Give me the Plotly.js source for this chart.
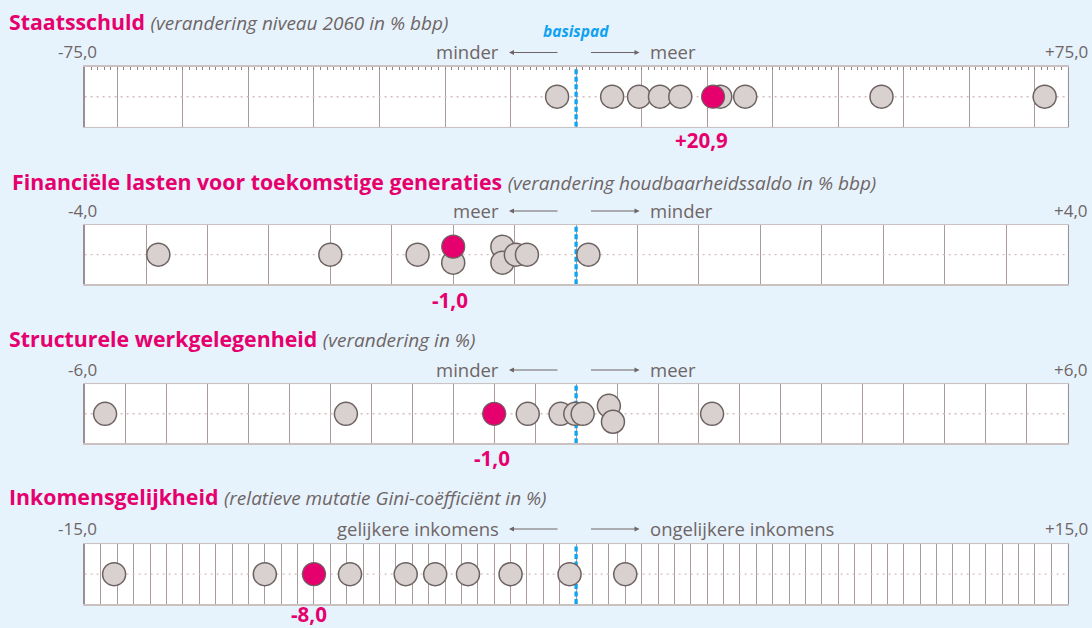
<!DOCTYPE html>
<html>
<head>
<meta charset="utf-8">
<script src="https://cdn.plot.ly/plotly-3.0.1.min.js"></script>
<style>
  html, body { margin: 0; padding: 0; background: #e6f3fd; }
  #chart { width: 1092px; height: 628px; }
</style>
</head>
<body>
<div id="chart"></div>
<script>
// ---------------- DATA ----------------
const panelTitles = ['Staatsschuld', 'Financiële lasten voor toekomstige generaties', 'Structurele werkgelegenheid', 'Inkomensgelijkheid'];
const panelSubtitles = ['(verandering niveau 2060 in % bbp)', '(verandering houdbaarheidssaldo in % bbp)', '(verandering in %)', '(relatieve mutatie Gini-coëfficiënt in %)'];
const leftWords = ['minder', 'meer', 'minder', 'gelijkere inkomens'];
const rightWords = ['meer', 'minder', 'meer', 'ongelijkere inkomens'];
const axisMinLabels = ['-75,0', '-4,0', '-6,0', '-15,0'];
const axisMaxLabels = ['+75,0', '+4,0', '+6,0', '+15,0'];
const axisLimits = [75, 4, 6, 15];
const gridSteps = [10, 0.5, 0.5, 0.5];
const highlightLabels = ['+20,9', '-1,0', '-1,0', '-8,0'];
const basisLabel = 'basispad';
const basisValue = 0;

const staatsschuldOther = [-2.9, 5.5, 9.6, 12.8, 15.9, 22.0, 25.8, 46.6, 71.5];
const staatsschuldHighlight = 20.9;
const lastenOther = [-3.4, -2.0, -1.29, -1.0, -0.6, -0.6, -0.49, -0.4, 0.1];
const lastenHighlight = -1.0;
const werkOther = [-5.75, -2.81, -0.59, -0.19, -0.01, 0.08, 0.40, 0.45, 1.66];
const werkHighlight = -1.0;
const inkomenOther = [-14.1, -9.5, -6.9, -5.2, -4.3, -3.3, -2.0, -0.2, 1.5];
const inkomenHighlight = -8.0;

const otherSeries = [staatsschuldOther, lastenOther, werkOther, inkomenOther];
const highlightSeries = [staatsschuldHighlight, lastenHighlight, werkHighlight, inkomenHighlight];

// ---------------- STYLE / LAYOUT ----------------
const W = 1092, H = 628;
const PINK = '#e5006d', GREY_TXT = '#6f6565', BLUE = '#0fa2f0';
const DOT_FILL = '#d9d1d0', DOT_LINE = '#6d6262';
const plotLeft = 84.6, plotRight = 1067.6;
const plotTops = [66.7, 225, 384.3, 544.3];
const plotBottoms = [126.7, 284.3, 443.3, 604];
const titleY = [22, 181, 338, 496];
const titleX = [8, 11, 8, 8];
const wordY = [51.5, 210, 369, 528];
const valueY = [140, 300, 458, 614];
const valueShift = [-12, -3, -2, -5];
const stackOffset = 0.27;
const stackThresholdPx = 6;

const px = x => x / W;
const py = y => 1 - y / H;

const traces = [];
const annotations = [];
const layout = {
  width: W, height: H,
  margin: {l: 0, r: 0, t: 0, b: 0},
  paper_bgcolor: '#e6f3fd',
  plot_bgcolor: '#ffffff',
  showlegend: false,
  font: {family: 'Open Sans, sans-serif', color: GREY_TXT},
  annotations: annotations
};

for (let i = 0; i < 4; i++) {
  const n = i === 0 ? '' : String(i + 1);
  const xa = 'x' + n, ya = 'y' + n;
  const lim = axisLimits[i];
  const pxPerUnit = (plotRight - plotLeft) / (2 * lim);

  // stacking of (nearly) coinciding points
  const pts = otherSeries[i].map(v => ({v: v, hl: false})).concat([{v: highlightSeries[i], hl: true}]);
  pts.forEach(p => p.y = 0);
  const used = new Set();
  for (let a = 0; a < pts.length; a++) {
    if (used.has(a)) continue;
    for (let b = a + 1; b < pts.length; b++) {
      if (used.has(b)) continue;
      if (Math.abs(pts[a].v - pts[b].v) * pxPerUnit < stackThresholdPx) {
        let up = pts[a], down = pts[b];
        if (pts[b].hl || (!pts[a].hl && pts[b].v < pts[a].v)) { up = pts[b]; down = pts[a]; }
        up.y = stackOffset; down.y = -stackOffset;
        used.add(a); used.add(b);
        break;
      }
    }
  }
  const others = pts.filter(p => !p.hl).sort((p, q) => p.v - q.v);
  const hl = pts.filter(p => p.hl);

  // dotted centre line
  traces.push({
    type: 'scatter', mode: 'lines', xaxis: xa, yaxis: ya,
    x: [-lim, lim * 1.008], y: [0, 0], cliponaxis: false,
    line: {color: '#d5bcc1', width: 1.4, dash: '2px,4px'}, hoverinfo: 'skip'
  });
  // basispad line
  traces.push({
    type: 'scatter', mode: 'lines', xaxis: xa, yaxis: ya,
    x: [basisValue, basisValue], y: [-1, 1],
    line: {color: BLUE, width: 3.3, dash: '5px,2.5px'}, hoverinfo: 'skip'
  });

  traces.push({
    type: 'scatter', mode: 'markers', xaxis: xa, yaxis: ya,
    x: others.map(p => p.v), y: others.map(p => p.y), cliponaxis: false,
    marker: {size: 23, color: DOT_FILL, line: {color: DOT_LINE, width: 1.5}},
    hoverinfo: 'x'
  });
  traces.push({
    type: 'scatter', mode: 'markers', xaxis: xa, yaxis: ya,
    x: hl.map(p => p.v), y: hl.map(p => p.y), cliponaxis: false,
    marker: {size: 23, color: PINK, line: {color: DOT_LINE, width: 1.2}},
    hoverinfo: 'x'
  });

  const xKey = 'xaxis' + n, yKey = 'yaxis' + n;
  const xcfg = {
    domain: [px(plotLeft), px(plotRight)],
    range: [-lim, lim],
    anchor: ya,
    side: 'top',
    showgrid: true, gridcolor: '#a99b9b', gridwidth: 1,
    tick0: 0, dtick: gridSteps[i],
    showticklabels: false,
    zeroline: false,
    showline: true, linecolor: '#cbc1c1', linewidth: 1.5, mirror: true,
    ticks: '', fixedrange: true
  };
  if (i === 0) {
    xcfg.ticks = 'inside';
    xcfg.ticklen = 3.5;
    xcfg.tickcolor = '#8f8282';
    xcfg.tickwidth = 1;
    xcfg.minor = {dtick: 1, ticks: 'inside', ticklen: 3.5, tickcolor: '#8f8282', tickwidth: 1, showgrid: false};
  }
  layout[xKey] = xcfg;
  layout[yKey] = {
    domain: [py(plotBottoms[i]), py(plotTops[i])],
    range: [-1, 1],
    anchor: xa,
    showgrid: false, zeroline: false, showticklabels: false, ticks: '',
    showline: true, linecolor: '#9d8f8f', linewidth: 1.2, mirror: true,
    fixedrange: true
  };

  // title
  annotations.push({
    xref: 'paper', yref: 'paper', x: px(titleX[i]), y: py(titleY[i]),
    xanchor: 'left', yanchor: 'middle', showarrow: false, borderpad: 0,
    text: '<b>' + panelTitles[i] + '</b> <i><span style="color:' + GREY_TXT + ';font-size:19px">' + panelSubtitles[i] + '</span></i>',
    font: {size: 21.3, color: PINK, family: 'Open Sans, sans-serif'}
  });
  // min / max labels
  annotations.push({
    xref: 'paper', yref: 'paper', x: px(98), y: py(wordY[i]),
    xanchor: 'right', yanchor: 'middle', showarrow: false, borderpad: 0,
    text: axisMinLabels[i], font: {size: 17, color: GREY_TXT}
  });
  annotations.push({
    xref: 'paper', yref: 'paper', x: px(1089), y: py(wordY[i]),
    xanchor: 'right', yanchor: 'middle', showarrow: false, borderpad: 0,
    text: axisMaxLabels[i], font: {size: 17, color: GREY_TXT}
  });
  // direction words
  annotations.push({
    xref: 'paper', yref: 'paper', x: px(500), y: py(wordY[i]),
    xanchor: 'right', yanchor: 'middle', showarrow: false, borderpad: 0,
    text: leftWords[i], font: {size: 18.5, color: GREY_TXT}
  });
  annotations.push({
    xref: 'paper', yref: 'paper', x: px(649), y: py(wordY[i]),
    xanchor: 'left', yanchor: 'middle', showarrow: false, borderpad: 0,
    text: rightWords[i], font: {size: 18.5, color: GREY_TXT}
  });
  // arrows
  annotations.push({
    xref: 'paper', yref: 'paper', x: px(509), y: py(wordY[i] + 1), ax: 50, ay: 0,
    text: '', showarrow: true, arrowhead: 2, arrowsize: 1, arrowwidth: 1, arrowcolor: GREY_TXT
  });
  annotations.push({
    xref: 'paper', yref: 'paper', x: px(639.5), y: py(wordY[i] + 1), ax: -50, ay: 0,
    text: '', showarrow: true, arrowhead: 2, arrowsize: 1, arrowwidth: 1, arrowcolor: GREY_TXT
  });
  // highlighted value label
  annotations.push({
    xref: xa, yref: 'paper', x: highlightSeries[i], y: py(valueY[i]), xshift: valueShift[i],
    xanchor: 'center', yanchor: 'middle', showarrow: false, borderpad: 0,
    text: '<b>' + highlightLabels[i] + '</b>', font: {size: 20.5, color: PINK}
  });
}
// basispad label
annotations.push({
  xref: 'x', yref: 'paper', x: basisValue, y: py(31.5),
  xanchor: 'center', yanchor: 'middle', showarrow: false, borderpad: 0,
  text: '<b><i>' + basisLabel + '</i></b>', font: {size: 15.5, color: BLUE}
});

Plotly.newPlot('chart', traces, layout, {displayModeBar: false, staticPlot: true});
</script>
</body>
</html>
